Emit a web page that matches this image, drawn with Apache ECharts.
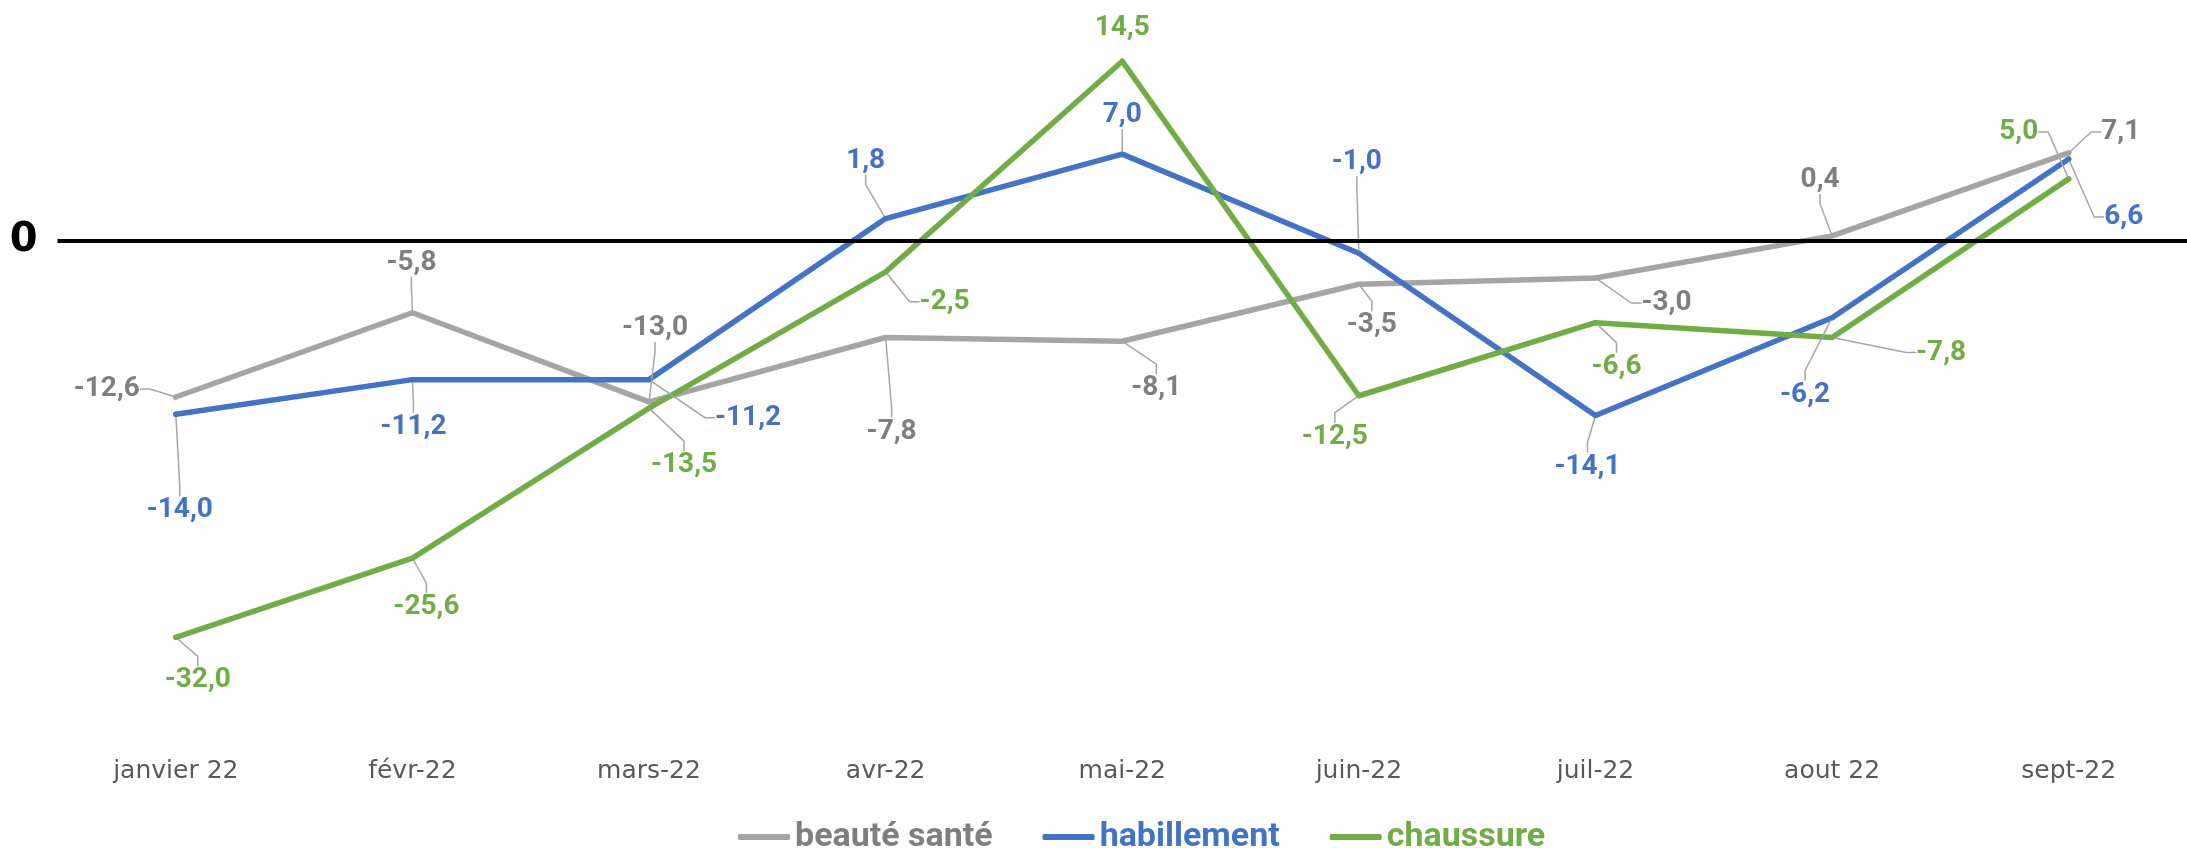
<!DOCTYPE html>
<html>
<head>
<meta charset="utf-8">
<script src="https://cdn.jsdelivr.net/npm/echarts@6/dist/echarts.min.js"></script>
<style>
  html, body { margin: 0; padding: 0; background: #fff; }
  #chart { width: 2187px; height: 848px; }
</style>
</head>
<body>
<div id="chart"></div>
<script>
// Monthly change (%) per category, Jan–Sept 2022. Excel-style data labels
// with leader lines, bold "0" baseline.

const months = ['janvier 22', 'févr-22', 'mars-22', 'avr-22', 'mai-22', 'juin-22', 'juil-22', 'aout 22', 'sept-22'];
const beauteSante = [-12.6, -5.8, -13.0, -7.8, -8.1, -3.5, -3.0, 0.4, 7.1];
const habillement = [-14.0, -11.2, -11.2, 1.8, 7.0, -1.0, -14.1, -6.2, 6.6];
const chaussure   = [-32.0, -25.6, -13.5, -2.5, 14.5, -12.5, -6.6, -7.8, 5.0];

// label offsets from the point (px), one per data point
const OFFSETS = [
  [[-69, -8], [-1, -50], [6, -74], [6, 94], [34, 47], [13, 41], [71, 25], [-12, -56], [52, -21]],
  [[4, 96], [1, 47], [99, 38], [-20, -58], [0, -39], [-2, -91], [-8, 51], [-27, 77], [55, 58]],
  [[22, 43], [14, 49], [35, 57], [59, 30], [0, -33], [-24, 41], [21, 44], [109, 15], [-50, -47]],
];

const COLORS = {
  beaute: '#A5A5A5',
  beauteText: '#7F7F7F',
  hab: '#4472C4',
  chau: '#70AD47',
};

const FONT = 'DejaVu Sans';
const BOLD_FONT = 'Roboto';

const chart = echarts.init(document.getElementById('chart'), null, { renderer: 'canvas' });

function fmt(v) {
  return v.toFixed(1).replace('.', ',');
}

function makeSeries(name, values, color, textColor, idx) {
  return {
    name,
    type: 'line',
    data: values.map((v, i) => {
      const item = { value: v };
      if (idx === 2 && i === 4) item.labelLine = { show: false };
      return item;
    }),
    symbol: 'circle',
    symbolSize: 5,
    itemStyle: { color },
    lineStyle: { color, width: 5.5, cap: 'round', join: 'round' },
    label: {
      show: true,
      position: 'inside',
      formatter: (p) => fmt(p.value),
      color: textColor,
      fontFamily: BOLD_FONT,
      fontWeight: 'bold',
      fontSize: 28,
    },
    labelLine: {
      show: true,
      length2: 10,
      lineStyle: { color: '#A6A6A6', width: 1.5 },
    },
    labelLayout: (p) => {
      const o = OFFSETS[idx] && OFFSETS[idx][p.dataIndex];
      if (!o) return {};
      return { dx: o[0], dy: o[1] };
    },
    z: 3,
  };
}

const series = [
  makeSeries('beauté santé', beauteSante, COLORS.beaute, COLORS.beauteText, 0),
  makeSeries('habillement', habillement, COLORS.hab, COLORS.hab, 1),
  makeSeries('chaussure', chaussure, COLORS.chau, COLORS.chau, 2),
];

// zero baseline
series[0].markLine = {
  silent: true,
  symbol: 'none',
  label: { show: false },
  lineStyle: { color: '#000', width: 4, type: 'solid' },
  data: [{ yAxis: 0 }],
  z: 5,
};

chart.setOption({
  backgroundColor: '#fff',
  animation: false,
  textStyle: { fontFamily: FONT },
  grid: {
    left: 57.5,
    top: 55,
    width: 2151,
    height: 681.5,
    containLabel: false,
  },
  xAxis: {
    type: 'category',
    data: months,
    boundaryGap: true,
    axisLine: { show: false },
    axisTick: { show: false },
    splitLine: { show: false },
    axisLabel: {
      color: '#595959',
      fontFamily: FONT,
      fontSize: 25,
      margin: 22,
    },
  },
  yAxis: {
    type: 'value',
    min: -40,
    max: 15,
    interval: 5,
    axisLine: { show: false },
    axisTick: { show: false },
    splitLine: { show: false },
    axisLabel: {
      formatter: (v) => (v === 0 ? '0' : ''),
      color: '#000',
      fontFamily: FONT,
      fontWeight: 'bold',
      fontSize: 40,
      margin: 20,
    },
  },
  legend: {
    top: 815,
    left: 733,
    icon: 'roundRect',
    itemWidth: 52,
    itemHeight: 6,
    itemGap: 50,
    textStyle: { fontFamily: BOLD_FONT, fontWeight: 'bold', fontSize: 34 },
    data: [
      { name: 'beauté santé', textStyle: { color: COLORS.beauteText } },
      { name: 'habillement', textStyle: { color: COLORS.hab } },
      { name: 'chaussure', textStyle: { color: COLORS.chau } },
    ],
  },
  series,
});
</script>
</body>
</html>
